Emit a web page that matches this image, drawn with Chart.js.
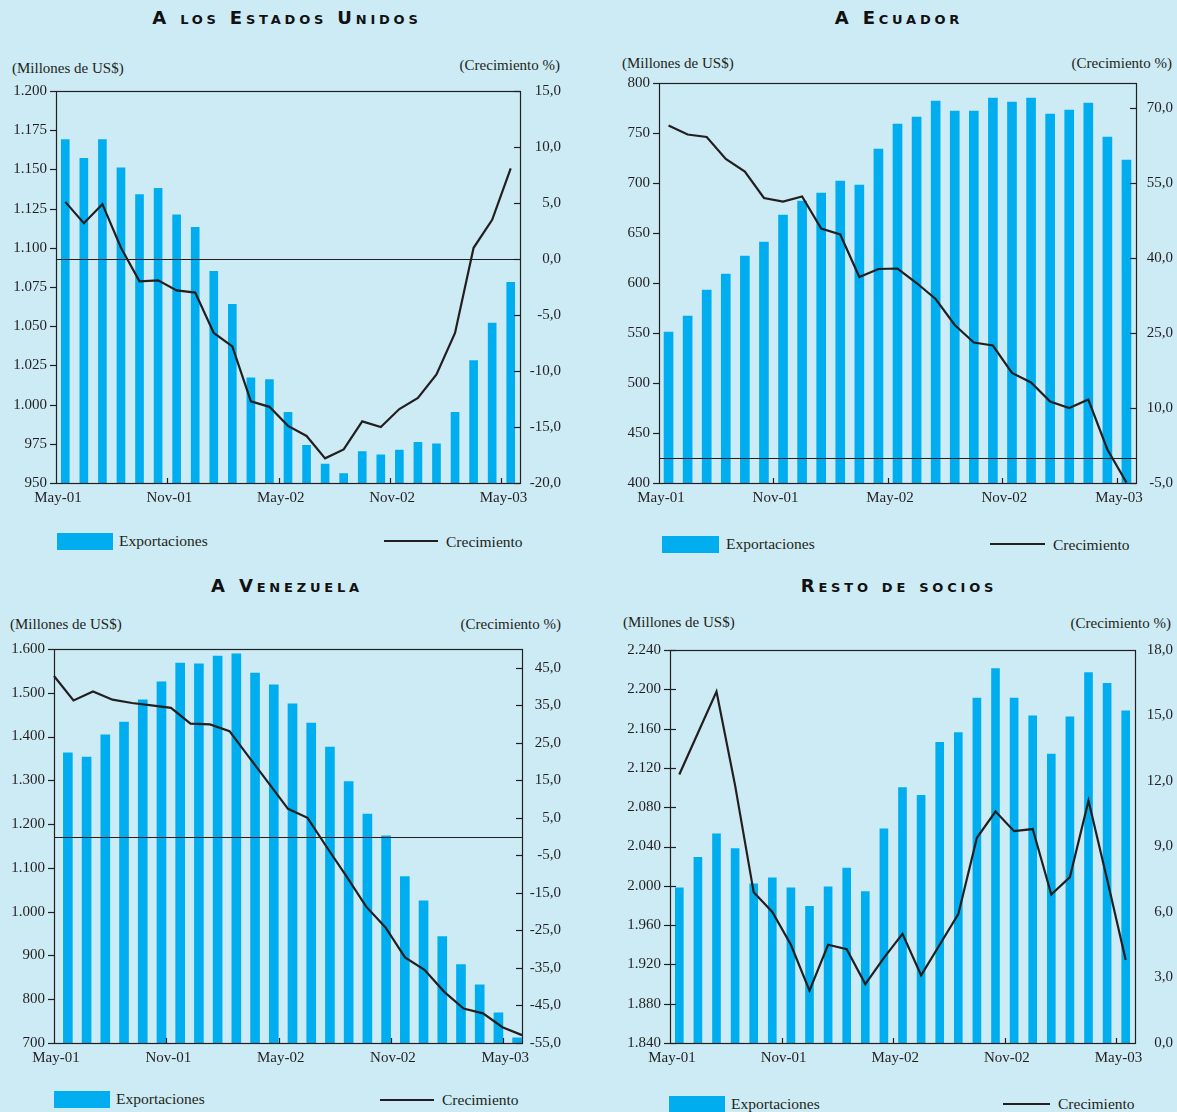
<!DOCTYPE html>
<html>
<head>
<meta charset="utf-8">
<script src="https://cdn.jsdelivr.net/npm/chart.js@4.4.1/dist/chart.umd.min.js"></script>
<style>
html,body{margin:0;padding:0;}
body{width:1177px;height:1112px;background:#cdebf4;position:relative;overflow:hidden;font-family:"Liberation Serif","Times New Roman",serif;color:#231f20;}
.title{position:absolute;width:500px;text-align:center;font-family:"DejaVu Sans",sans-serif;font-weight:bold;font-variant:small-caps;font-size:18px;line-height:22px;letter-spacing:3.8px;color:#111;}
.lab{position:absolute;font-size:15px;line-height:18px;white-space:nowrap;}
.cv{position:absolute;}
.lgbox{position:absolute;background:#00aeef;}
.lgline{position:absolute;height:2px;background:#231f20;}
.lgtxt{position:absolute;font-size:15.5px;line-height:18px;white-space:nowrap;}
</style>
</head>
<body>
<div class="title" style="left:37px;top:7px;">A los Estados Unidos</div>
<div class="title" style="left:649px;top:7px;">A Ecuador</div>
<div class="title" style="left:37px;top:575px;">A Venezuela</div>
<div class="title" style="left:649px;top:575px;">Resto de socios</div>

<div class="lab" style="left:12px;top:59px;">(Millones de US$)</div>
<div class="lab" style="right:617px;top:56px;">(Crecimiento %)</div>
<div class="lab" style="left:622px;top:54px;">(Millones de US$)</div>
<div class="lab" style="right:5px;top:54px;">(Crecimiento %)</div>
<div class="lab" style="left:10px;top:615px;">(Millones de US$)</div>
<div class="lab" style="right:616px;top:615px;">(Crecimiento %)</div>
<div class="lab" style="left:623px;top:613px;">(Millones de US$)</div>
<div class="lab" style="right:6px;top:614px;">(Crecimiento %)</div>

<canvas id="c1" class="cv"></canvas>
<canvas id="c2" class="cv"></canvas>
<canvas id="c3" class="cv"></canvas>
<canvas id="c4" class="cv"></canvas>

<div class="lgbox" style="left:57px;top:533px;width:56px;height:17px;"></div>
<div class="lgtxt" style="left:119px;top:532px;">Exportaciones</div>
<div class="lgline" style="left:384px;top:540px;width:54px;"></div>
<div class="lgtxt" style="left:446px;top:533px;">Crecimiento</div>

<div class="lgbox" style="left:662px;top:536px;width:57px;height:17px;"></div>
<div class="lgtxt" style="left:726px;top:535px;">Exportaciones</div>
<div class="lgline" style="left:990px;top:543px;width:55px;"></div>
<div class="lgtxt" style="left:1053px;top:536px;">Crecimiento</div>

<div class="lgbox" style="left:54px;top:1091px;width:56px;height:17px;"></div>
<div class="lgtxt" style="left:116px;top:1090px;">Exportaciones</div>
<div class="lgline" style="left:380px;top:1099px;width:54px;"></div>
<div class="lgtxt" style="left:442px;top:1091px;">Crecimiento</div>

<div class="lgbox" style="left:669px;top:1096px;width:56px;height:16px;"></div>
<div class="lgtxt" style="left:731px;top:1095px;">Exportaciones</div>
<div class="lgline" style="left:1003px;top:1103px;width:47px;"></div>
<div class="lgtxt" style="left:1058px;top:1095px;">Crecimiento</div>

<script>
// ---------- DATA ----------
const months = ['May-01','Jun-01','Jul-01','Ago-01','Sep-01','Oct-01','Nov-01','Dic-01','Ene-02','Feb-02','Mar-02','Abr-02','May-02','Jun-02','Jul-02','Ago-02','Sep-02','Oct-02','Nov-02','Dic-02','Ene-03','Feb-03','Mar-03','Abr-03','May-03'];

const usExport = [1169,1157,1169,1151,1134,1138,1121,1113,1085,1064,1017,1016,995,974,962,956,970,968,971,976,975,995,1028,1052,1078];
const usGrowth = [5.1,3.2,4.9,1.0,-2.0,-1.9,-2.8,-3.0,-6.6,-7.8,-12.7,-13.2,-14.9,-15.8,-17.8,-17.0,-14.5,-15.0,-13.4,-12.4,-10.3,-6.6,1.0,3.5,8.1];
const usLeftTicks = [950,975,1000,1025,1050,1075,1100,1125,1150,1175,1200];
const usRightTicks = [-20,-15,-10,-5,0,5,10,15];
const usRightRange = [-20,15];

const ecExport = [551,567,593,609,627,641,668,682,690,702,698,734,759,766,782,772,772,785,781,785,769,773,780,746,723];
const ecGrowth = [66.5,64.7,64.2,59.8,57.3,52.0,51.3,52.3,45.9,44.7,36.2,37.8,37.9,35.0,31.8,26.6,23.1,22.5,17.0,15.1,11.3,10.0,11.7,1.7,-4.9];
const ecLeftTicks = [400,450,500,550,600,650,700,750,800];
const ecRightTicks = [-5,10,25,40,55,70];
const ecRightRange = [-5,75];

const veExport = [1363,1353,1404,1433,1484,1525,1568,1566,1584,1589,1545,1518,1475,1431,1376,1297,1223,1173,1080,1025,943,879,833,769,712];
const veGrowth = [42.8,36.3,38.7,36.5,35.6,35.0,34.3,30.1,29.9,28.1,21.2,14.3,7.4,5.0,-2.9,-10.6,-18.6,-24.2,-32.2,-35.5,-41.3,-45.8,-47.1,-50.8,-52.9];
const veLeftTicks = [700,800,900,1000,1100,1200,1300,1400,1500,1600];
const veRightTicks = [-55,-45,-35,-25,-15,-5,5,15,25,35,45];
const veRightRange = [-55,50];

const reExport = [1998,2029,2053,2038,2002,2008,1998,1979,1999,2018,1994,2058,2100,2092,2146,2156,2191,2221,2191,2173,2134,2172,2217,2206,2178];
const reGrowth = [12.3,14.2,16.1,11.8,6.9,6.0,4.5,2.4,4.5,4.3,2.7,3.9,5.0,3.1,4.5,5.9,9.4,10.6,9.7,9.8,6.8,7.6,11.1,7.5,3.8];
const reLeftTicks = [1840,1880,1920,1960,2000,2040,2080,2120,2160,2200,2240];
const reRightTicks = [0,3,6,9,12,15,18];
const reRightRange = [0,18];

const labelEvery = 6;

// ---------- LAYOUT / STYLE ----------
const INK = '#231f20';
const BAR = '#00aeef';
const FONT = {family:'"Liberation Serif","Times New Roman",serif', size:15};

const panels = [
  {id:'c1', L:56, T:91, R:520, B:483, exp:usExport, gr:usGrowth, lt:usLeftTicks, rt:usRightTicks, rr:usRightRange, barW:8, rw:41, edge:false, zero:true, leftTick:'out', rightTick:true},
  {id:'c2', L:659, T:83, R:1136, B:483, exp:ecExport, gr:ecGrowth, lt:ecLeftTicks, rt:ecRightTicks, rr:ecRightRange, barW:9, rw:37, edge:false, zero:true, leftTick:'out', rightTick:true},
  {id:'c3', L:54, T:649, R:522, B:1043, exp:veExport, gr:veGrowth, lt:veLeftTicks, rt:veRightTicks, rr:veRightRange, barW:9, rw:39, edge:true, zero:true, leftTick:'out', rightTick:true},
  {id:'c4', L:670, T:650, R:1135, B:1043, exp:reExport, gr:reGrowth, lt:reLeftTicks, rt:reRightTicks, rr:reRightRange, barW:8, rw:38, edge:false, zero:false, leftTick:'both', rightTick:false}
];

const fmtThousands = v => String(v).replace(/\B(?=(\d{3})+(?!\d))/g, '.');
const fmtPct = v => v.toFixed(1).replace('.', ',');

const PADL = 60, PADT = 10, XH = 30;

function makeFrame(p) {
  return {
    id: 'frame',
    afterDatasetDraw(chart, args) {
      if (args.meta.type !== 'bar' || !p.zero) return;
      const ctx = chart.ctx, ca = chart.chartArea;
      const yz = Math.round(chart.scales.y1.getPixelForValue(0)) + 0.5;
      ctx.save();
      ctx.strokeStyle = INK; ctx.lineWidth = 1.2;
      ctx.beginPath(); ctx.moveTo(ca.left, yz); ctx.lineTo(ca.right, yz); ctx.stroke();
      ctx.restore();
    },
    afterDraw(chart) {
      const ctx = chart.ctx, ca = chart.chartArea;
      ctx.save();
      ctx.strokeStyle = INK; ctx.lineWidth = 1.2;
      ctx.strokeRect(Math.round(ca.left)+0.5, Math.round(ca.top)+0.5, Math.round(ca.right-ca.left), Math.round(ca.bottom-ca.top));
      const yl = chart.scales.y;
      yl.ticks.forEach(t => {
        const y = Math.round(yl.getPixelForValue(t.value)) + 0.5;
        ctx.beginPath();
        if (p.leftTick === 'out') { ctx.moveTo(ca.left - 6, y); ctx.lineTo(ca.left, y); }
        else { ctx.moveTo(ca.left - 6, y); ctx.lineTo(ca.left + 6, y); }
        ctx.stroke();
      });
      if (p.rightTick) {
        const yr = chart.scales.y1;
        yr.ticks.forEach(t => {
          const y = Math.round(yr.getPixelForValue(t.value)) + 0.5;
          ctx.beginPath(); ctx.moveTo(ca.right - 6, y); ctx.lineTo(ca.right, y); ctx.stroke();
        });
      }
      const xs = chart.scales.x;
      const cw = (ca.right - ca.left) / months.length;
      for (let i = labelEvery; i < months.length; i += labelEvery) {
        const x = Math.round(xs.getPixelForValue(i) - cw / 2) + 0.5;
        ctx.beginPath(); ctx.moveTo(x, ca.bottom); ctx.lineTo(x, ca.bottom - 5); ctx.stroke();
      }
      ctx.restore();
    }
  };
}

panels.forEach(p => {
  const cv = document.getElementById(p.id);
  const w = (p.R - p.L) + PADL + p.rw;
  const h = (p.B - p.T) + PADT + XH;
  cv.width = w; cv.height = h;
  cv.style.left = (p.L - PADL) + 'px';
  cv.style.top = (p.T - PADT) + 'px';
  cv.style.width = w + 'px'; cv.style.height = h + 'px';
  const cw = (p.R - p.L) / months.length;

  new Chart(cv, {
    type: 'bar',
    data: {
      labels: months,
      datasets: [
        {type:'line', label:'Crecimiento', data:p.gr, yAxisID:'y1', xAxisID: p.edge ? 'x2' : 'x',
         borderColor: INK, borderWidth: 2.2, pointRadius: 0, tension: 0, fill:false, order: 0},
        {type:'bar', label:'Exportaciones', data:p.exp, yAxisID:'y', xAxisID:'x',
         backgroundColor: BAR, barThickness: p.barW, order: 1}
      ]
    },
    options: {
      responsive: false, animation: false, events: [],
      devicePixelRatio: 1,
      layout: {padding: {top: PADT, left: 0, right: 0, bottom: 0}},
      plugins: {legend: {display: false}, tooltip: {enabled: false}, title: {display: false}},
      scales: {
        x: {
          type: 'category', offset: true,
          grid: {display: false, drawTicks: false}, border: {display: false},
          ticks: {autoSkip: false, maxRotation: 0, minRotation: 0, padding: 6, labelOffset: -cw/2 + 2,
                  font: FONT, color: INK,
                  callback: (v, i) => (i % labelEvery === 0 ? months[i] : '')},
          afterFit: s => { s.height = XH; }
        },
        x2: {type: 'category', offset: false, display: false, labels: months},
        y: {
          position: 'left', min: p.lt[0], max: p.lt[p.lt.length - 1],
          afterBuildTicks: s => { s.ticks = p.lt.map(v => ({value: v})); },
          grid: {drawOnChartArea: false, drawTicks: true, tickLength: 9, color: 'rgba(0,0,0,0)'},
          border: {display: false},
          ticks: {padding: 0, font: FONT, color: INK, callback: v => fmtThousands(v)},
          afterFit: s => { s.width = PADL; }
        },
        y1: {
          position: 'right', min: p.rr[0], max: p.rr[1],
          afterBuildTicks: s => { s.ticks = p.rt.map(v => ({value: v})); },
          grid: {drawOnChartArea: false, drawTicks: false, color: 'rgba(0,0,0,0)'},
          border: {display: false},
          ticks: {crossAlign: 'far', padding: 0, font: FONT, color: INK, callback: v => fmtPct(v)},
          afterFit: s => { s.width = p.rw; }
        }
      }
    },
    plugins: [makeFrame(p)]
  });
});
</script>
</body>
</html>
